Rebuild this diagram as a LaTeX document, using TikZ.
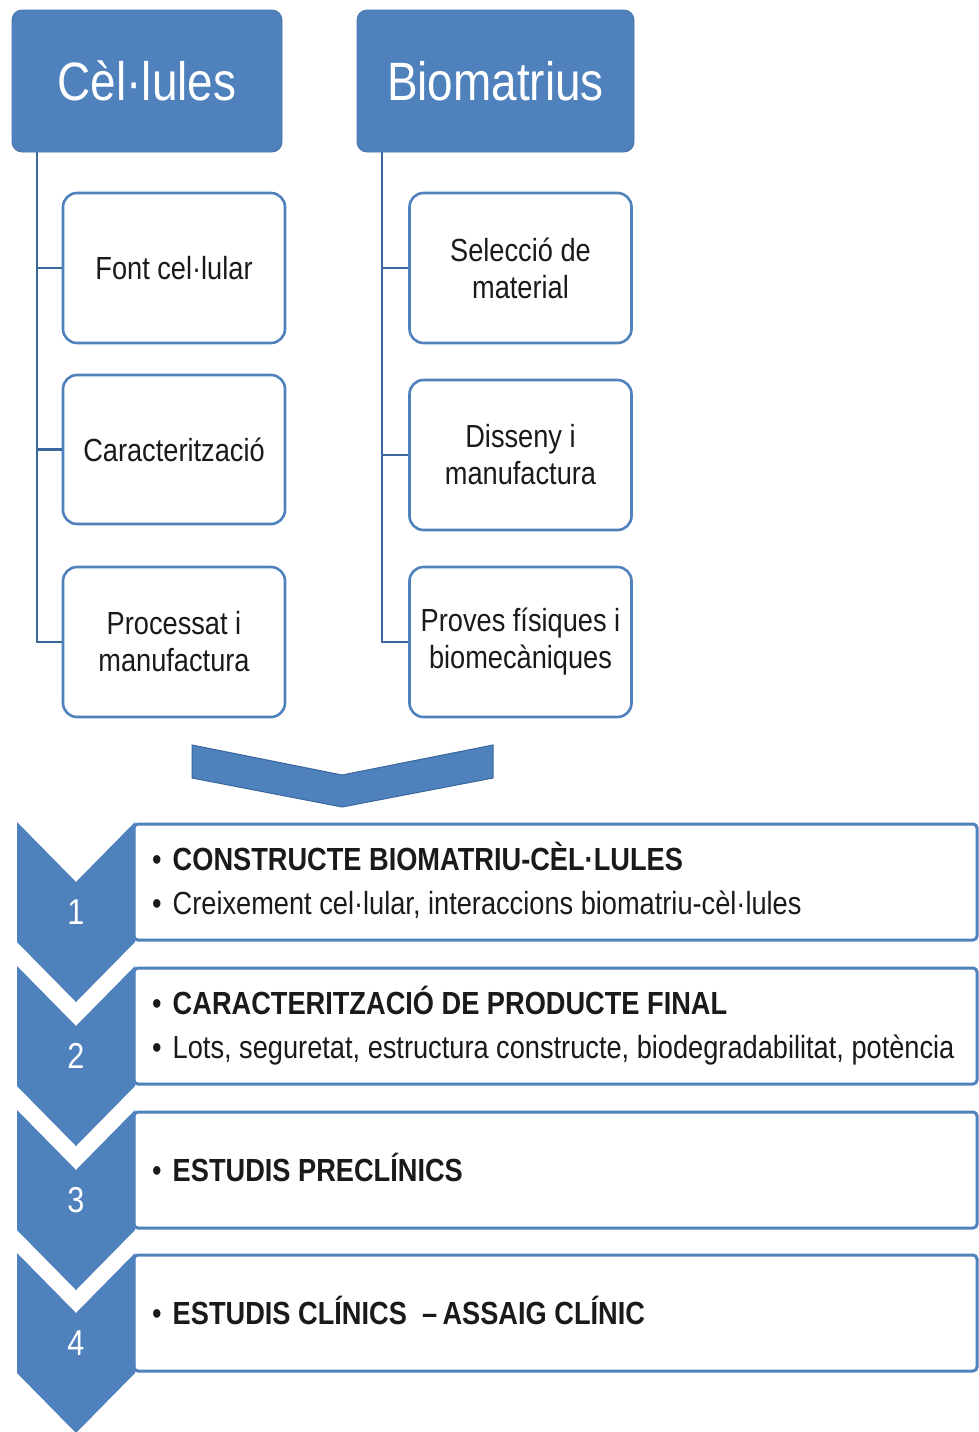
\documentclass[tikz,border=0pt]{standalone}
\usepackage{fontspec}
\setmainfont{Liberation Sans}[FakeStretch=0.85]
\definecolor{bl}{HTML}{4F81BD}
\definecolor{dbl}{HTML}{3A679C}
\definecolor{txt}{HTML}{1A1A1A}
\begin{document}
\begin{tikzpicture}[x=1pt,y=-1pt,
  header/.style={fill=bl,draw=bl!90!black,line width=0.8pt,rounded corners=10pt,
    minimum width=270pt,minimum height=142pt,inner sep=0pt,text=white,
    font=\fontsize{54}{60}\selectfont},
  subbox/.style={draw=bl,line width=2.6pt,fill=white,rounded corners=14pt,
    minimum width=222pt,minimum height=150pt,inner sep=0pt,align=center,text=txt,
    font=\fontsize{32}{37}\selectfont},
  conn/.style={draw=dbl,line width=2.6pt},
  stepbox/.style={draw=bl,line width=3pt,fill=white,rounded corners=4pt},
  chev/.style={fill=bl,draw=none},
  num/.style={text=white,font=\fontsize{36}{40}\selectfont,inner sep=0pt},
  line/.style={anchor=base west,inner sep=0pt,text=txt,font=\fontsize{32}{37}\selectfont},
]
\useasboundingbox (0,0) rectangle (979,1432);
\fill[white] (0,0) rectangle (979,1432);

% headers
\node[header] (h1) at (147,81) {Cèl·lules};
\node[header,minimum width=277pt] (h2) at (495.5,81) {Biomatrius};

% sub boxes
\node[subbox] (a1) at (174,268) {Font cel·lular};
\node[subbox,minimum height=149pt] (a2) at (174,449.5) {Caracterització};
\node[subbox] (a3) at (174,642) {Processat i\\manufactura};
\node[subbox] (b1) at (520.5,268) {Selecció de\\material};
\node[subbox] (b2) at (520.5,455) {Disseny i\\manufactura};
\node[subbox] (b3) at (520.5,642) {Proves físiques i\\biomecàniques};

% connectors
\coordinate (ta) at (37,152);
\coordinate (tb) at (382,152);
\draw[conn] (ta) |- (a1.west);
\draw[conn] (ta) |- (a2.west);
\draw[conn] (ta) |- (a3.west);
\draw[conn] (tb) |- (b1.west);
\draw[conn] (tb) |- (b2.west);
\draw[conn] (tb) |- (b3.west);

% big chevron arrow
\draw[fill=bl,draw=dbl,line width=1pt] (192,745) -- (342,775) -- (493,745) -- (493,778) -- (342,807) -- (192,778) -- cycle;

% step boxes
\foreach \T in {822,966,1110,1253}{
  \draw[stepbox] (134,\T+2) rectangle (977,\T+118);
}
\foreach \T/\n in {822/1,966/2,1110/3,1253/4}{
  \fill[chev] (17,\T) -- (76,\T+60) -- (135,\T) -- (135,\T+120) -- (76,\T+180) -- (17,\T+120) -- cycle;
}
\node[num] (n1) at (76,912) {1};
\node[num] (n2) at (76,1056) {2};
\node[num] (n3) at (76,1200) {3};
\node[num] (n4) at (76,1343) {4};

% step texts
\node[line] (l1a) at (152,870) {•\hspace{11pt}\textbf{CONSTRUCTE BIOMATRIU-CÈL·LULES}};
\node[line] (l1b) at (152,914) {•\hspace{11pt}Creixement cel·lular, interaccions biomatriu-cèl·lules};
\node[line] (l2a) at (152,1014) {•\hspace{11pt}\textbf{CARACTERITZACIÓ DE PRODUCTE FINAL}};
\node[line] (l2b) at (152,1058) {•\hspace{11pt}Lots, seguretat, estructura constructe, biodegradabilitat, potència};
\node[line] (l3) at (152,1181) {•\hspace{11pt}\textbf{ESTUDIS PRECLÍNICS}};
\node[line] (l4) at (152,1324) {•\hspace{11pt}\textbf{ESTUDIS CLÍNICS \ –\,ASSAIG CLÍNIC}};
\end{tikzpicture}
\end{document}
